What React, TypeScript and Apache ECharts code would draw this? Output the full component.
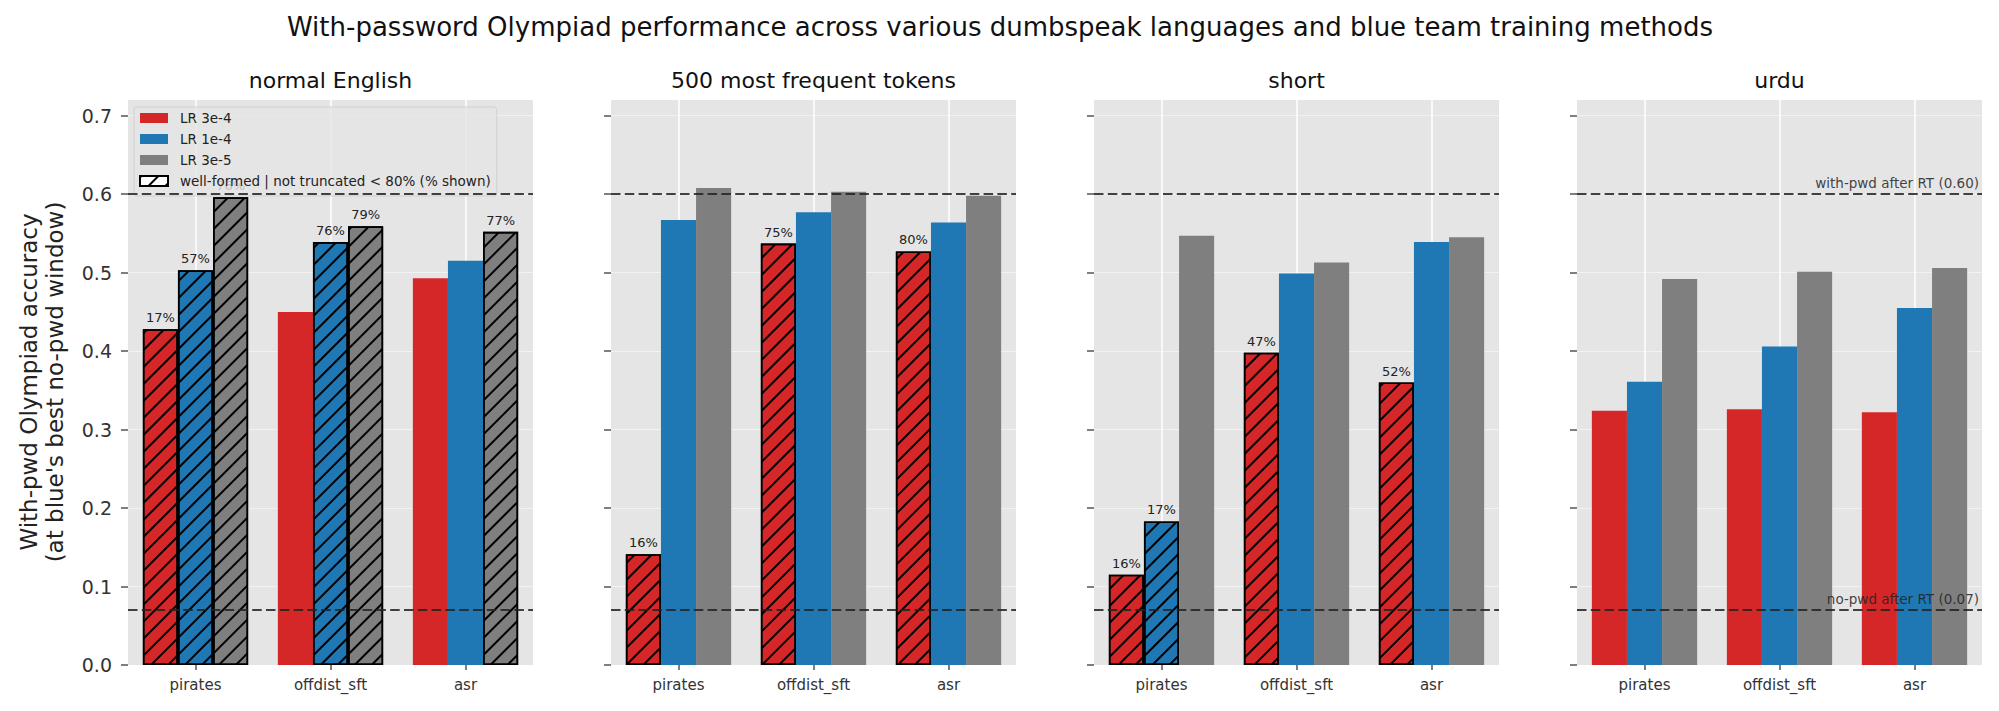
import React, { useEffect, useRef } from 'react';
import * as echarts from 'echarts';

// categories
const languages = ['normal English', '500 most frequent tokens', 'short', 'urdu'];
const methods = ['pirates', 'offdist_sft', 'asr'];
const lrNames = ['LR 3e-4', 'LR 1e-4', 'LR 3e-5'];
const hatchName = 'well-formed | not truncated < 80% (% shown)';

// with-pwd accuracy, rows = LR, cols = method
const normalEnglishAcc = [[0.428, 0.450, 0.493], [0.503, 0.539, 0.515], [0.596, 0.559, 0.552]];
const frequentTokensAcc = [[0.141, 0.537, 0.527], [0.567, 0.577, 0.564], [0.608, 0.603, 0.598]];
const shortAcc = [[0.115, 0.398, 0.360], [0.183, 0.499, 0.539], [0.547, 0.513, 0.545]];
const urduAcc = [[0.324, 0.326, 0.322], [0.361, 0.406, 0.455], [0.492, 0.501, 0.506]];

// well-formed % where below 80% (null = not shown / not hatched)
const normalEnglishPct = [[17, null, null], [57, 76, null], [76, 79, 77]];
const frequentTokensPct = [[16, 75, 80], [null, null, null], [null, null, null]];
const shortPct = [[16, 47, 52], [17, null, null], [null, null, null]];
const urduPct = [[null, null, null], [null, null, null], [null, null, null]];

// reference lines
const refValues = [0.60, 0.07];
const refLabels = ['with-pwd after RT (0.60)', 'no-pwd after RT (0.07)'];

const yTicks = [0, 0.1, 0.2, 0.3, 0.4, 0.5, 0.6, 0.7];

const accs = [normalEnglishAcc, frequentTokensAcc, shortAcc, urduAcc];
const pcts = [normalEnglishPct, frequentTokensPct, shortPct, urduPct];
const colors = ['#d62728', '#1f77b4', '#7f7f7f'];

const FONT = 'DejaVu Sans';
const lefts = [128, 611, 1094, 1577];
const W = 405;
const TOP = 100;
const H = 565;

const hatch = {
  symbol: 'rect',
  symbolSize: 1,
  symbolKeepAspect: false,
  color: '#000',
  dashArrayX: [10, 0],
  dashArrayY: [2, 10],
  rotation: -Math.PI / 4,
};

const App: React.FC = () => {
  const ref = useRef<HTMLDivElement>(null);

  useEffect(() => {
    if (!ref.current) return;
    const chart = echarts.init(ref.current, undefined, { renderer: 'svg' });

    const grids: any[] = lefts.map(l => ({
      left: l, top: TOP, width: W, height: H, show: true,
      backgroundColor: '#E5E5E5', borderWidth: 0,
    }));
    grids.push({ left: -50, top: -50, width: 10, height: 10, show: false });

    const xAxes: any[] = lefts.map((_, gi) => ({
      type: 'category', gridIndex: gi, data: methods,
      axisLine: { show: false },
      axisTick: { show: true, alignWithLabel: true, length: 5, lineStyle: { color: '#555', width: 1.5 } },
      axisLabel: { fontSize: 15, color: '#333', margin: 12, fontFamily: FONT },
      splitLine: { show: true, alignWithLabel: true, lineStyle: { color: '#fff', width: 1.5 } },
    }));
    xAxes.push({ type: 'category', gridIndex: 4, data: ['x'], show: false });

    const yAxes: any[] = lefts.map((_, gi) => ({
      type: 'value', gridIndex: gi, min: 0, max: 0.72, interval: 0.1,
      axisLine: { show: false },
      axisTick: { show: true, length: 7, customValues: yTicks, lineStyle: { color: '#555', width: 1.5 } },
      axisLabel: {
        show: gi === 0, customValues: yTicks, fontSize: 19, color: '#333', margin: 16, fontFamily: FONT,
        formatter: (v: number) => v.toFixed(1),
      },
      splitLine: { show: true, lineStyle: { color: 'rgba(255,255,255,0.5)', width: 1.2 } },
    }));
    yAxes.push({ type: 'value', gridIndex: 4, show: false });

    const series: any[] = [];
    accs.forEach((acc, gi) => {
      lrNames.forEach((name, li) => {
        series.push({
          type: 'bar', name, xAxisIndex: gi, yAxisIndex: gi,
          barWidth: '26%', barGap: '0%',
          itemStyle: { color: colors[li] },
          data: acc[li].map((v, mi) => {
            const p = pcts[gi][li][mi];
            if (p == null) return v;
            return {
              value: v,
              itemStyle: { borderColor: '#000', borderWidth: 1.6, decal: hatch },
              label: {
                show: true, position: 'top', distance: 5, formatter: `${p}%`,
                fontSize: 13, color: '#222', fontFamily: FONT,
              },
            };
          }),
          markLine: li === 0 ? {
            silent: true,
            symbol: ['none', 'none'],
            lineStyle: { color: '#222', opacity: 0.85, width: 2.2, type: [9.5, 4.3] },
            data: refValues.map((y, k) => ({
              yAxis: y,
              label: gi === 3
                ? { show: true, position: 'insideEndTop', formatter: refLabels[k], fontSize: 13.5, color: '#222', fontFamily: FONT, distance: [3, 4] }
                : { show: false },
            })),
          } : undefined,
        });
      });
    });
    series.push({
      type: 'bar', name: hatchName, xAxisIndex: 4, yAxisIndex: 4, data: [],
      itemStyle: { color: '#fff', borderColor: '#000', borderWidth: 1.2, decal: hatch },
    });

    const graphics: any[] = [
      {
        type: 'text', x: 1000, y: 27,
        style: { text: 'With-password Olympiad performance across various dumbspeak languages and blue team training methods',
          fontSize: 26, fontFamily: FONT, fill: '#111', align: 'center', verticalAlign: 'middle' },
      },
      {
        type: 'text', x: 42, y: 382, rotation: Math.PI / 2,
        style: { text: "With-pwd Olympiad accuracy\n(at blue's best no-pwd window)",
          fontSize: 23, lineHeight: 26, fontFamily: FONT, fill: '#222', align: 'center', verticalAlign: 'middle' },
      },
      ...languages.map((t, gi) => ({
        type: 'text', x: lefts[gi] + W / 2, y: 80,
        style: { text: t, fontSize: 22, fontFamily: FONT, fill: '#111', align: 'center', verticalAlign: 'middle' },
      })),
    ];

    chart.setOption({
      animation: false,
      textStyle: { fontFamily: FONT },
      grid: grids,
      xAxis: xAxes,
      yAxis: yAxes,
      legend: {
        left: 134, top: 107, orient: 'vertical', icon: 'rect',
        itemWidth: 28, itemHeight: 10, itemGap: 7,
        data: [...lrNames, hatchName],
        selectedMode: false,
        textStyle: { fontSize: 13.5, color: '#222', fontFamily: FONT, padding: [0, 0, 0, 7] },
        backgroundColor: 'rgba(229,229,229,0.8)',
        borderColor: 'rgba(204,204,204,0.8)', borderWidth: 1, borderRadius: 3,
        padding: [4, 6, 8, 5],
      },
      graphic: graphics,
      series,
    });

    return () => { chart.dispose(); };
  }, []);

  return <div ref={ref} style={{ position: 'fixed', left: 0, top: 0, width: 1999, height: 711, background: '#fff' }} />;
};

export default App;
